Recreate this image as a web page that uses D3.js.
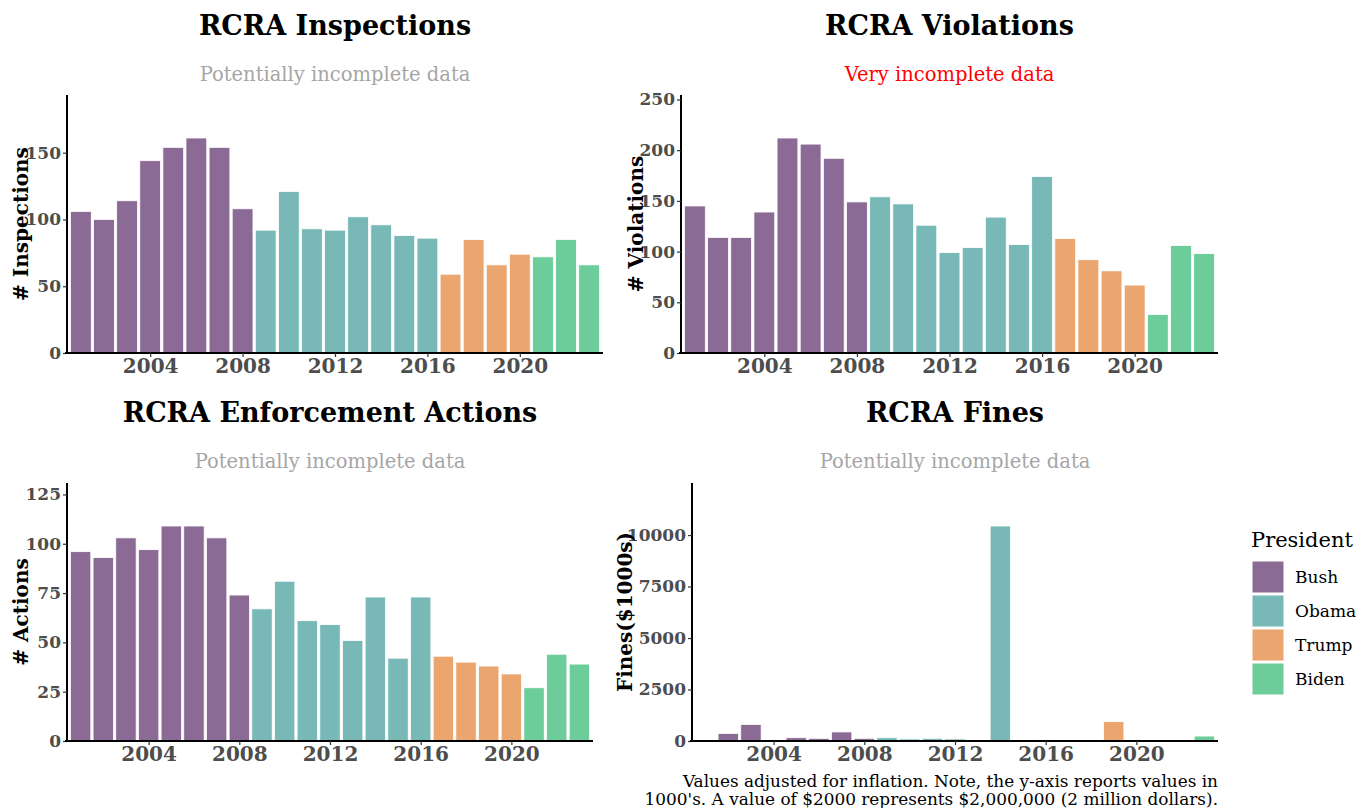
<!DOCTYPE html>
<html>
<head>
<meta charset="utf-8">
<script src="https://cdn.jsdelivr.net/npm/d3@7"></script>
<style>
  body { margin: 0; background: #fff; }
  svg { font-family: "DejaVu Serif", serif; }
</style>
</head>
<body>
<svg id="chart" width="1358" height="808"></svg>
<script>
// Data
const years = d3.range(2001, 2024);
const presidents = ["Bush", "Obama", "Trump", "Biden"];
const presidentByYear = ["Bush","Bush","Bush","Bush","Bush","Bush","Bush","Bush",
  "Obama","Obama","Obama","Obama","Obama","Obama","Obama","Obama",
  "Trump","Trump","Trump","Trump","Biden","Biden","Biden"];
const presColors = ["#8c6a96", "#78b9b8", "#eba66f", "#6dcd9a"];

const inspections = [106,100,114,144,154,161,154,108,92,121,93,92,102,96,88,86,59,85,66,74,72,85,66];
const violations = [145,114,114,139,212,206,192,149,154,147,126,99,104,134,107,174,113,92,81,67,38,106,98];
const actions = [96,93,103,97,109,109,103,74,67,81,61,59,51,73,42,73,43,40,38,34,27,44,39];
const fines = [0,370,800,50,160,130,440,130,160,100,130,100,0,10440,0,50,0,0,940,0,0,0,240];

const xTicks = [2004, 2008, 2012, 2016, 2020];

const color = d3.scaleOrdinal().domain(presidents).range(presColors);
const svg = d3.select("#chart");

function drawPanel(p) {
  const x = d3.scaleLinear().domain([2000.4, 2023.6]).range([p.left, p.right]);
  const y = d3.scaleLinear().domain([0, d3.max(p.values) * 1.2]).range([p.bottom, p.top]);
  const g = svg.append("g");

  // bars
  g.selectAll("rect")
    .data(years.map((yr, i) => ({ yr, v: p.values[i], pres: presidentByYear[i] })))
    .enter().append("rect")
    .attr("x", d => x(d.yr - 0.45))
    .attr("width", d => x(d.yr + 0.45) - x(d.yr - 0.45))
    .attr("y", d => y(d.v))
    .attr("height", d => y(0) - y(d.v))
    .attr("fill", d => color(d.pres))
    .attr("stroke", d => d.v > 0 ? "#ffffff" : "none")
    .attr("stroke-width", 0.8);

  // y axis
  const ya = g.append("g")
    .attr("transform", `translate(${p.left},0)`)
    .call(d3.axisLeft(y).tickValues(p.yTicks).tickSize(4).tickPadding(2).tickFormat(d3.format("d")));
  ya.select(".domain").attr("stroke", "#000").attr("stroke-width", 2).attr("d", `M0,${p.bottom}V${p.top}`);
  ya.selectAll(".tick line").attr("stroke", "#333").attr("stroke-width", 1.2);
  ya.selectAll(".tick text").attr("fill", "#4d4d4d").attr("font-weight", "bold")
    .attr("font-size", 17).attr("font-family", "DejaVu Serif");

  // x axis
  const xa = g.append("g")
    .attr("transform", `translate(0,${p.bottom})`)
    .call(d3.axisBottom(x).tickValues(xTicks).tickSize(4).tickPadding(2).tickFormat(d3.format("d")));
  xa.select(".domain").attr("stroke", "#000").attr("stroke-width", 2).attr("d", `M${p.left - 2},0H${p.right}`);
  xa.selectAll(".tick line").attr("stroke", "#333").attr("stroke-width", 1.2);
  xa.selectAll(".tick text").attr("fill", "#4d4d4d").attr("font-weight", "bold")
    .attr("font-size", 20).attr("font-family", "DejaVu Serif");

  // titles
  const cx = (p.left + p.right) / 2;
  g.append("text").attr("x", cx).attr("y", p.titleY).attr("text-anchor", "middle")
    .attr("font-size", 27).attr("font-weight", "bold").attr("fill", "#000").text(p.title);
  g.append("text").attr("x", cx).attr("y", p.titleY + 46).attr("text-anchor", "middle")
    .attr("font-size", 19.5).attr("fill", p.subColor).text(p.subtitle);

  // y label
  g.append("text")
    .attr("transform", `translate(${p.labelX},${(p.top + p.bottom) / 2}) rotate(-90)`)
    .attr("text-anchor", "middle").attr("font-size", 20).attr("font-weight", "bold")
    .attr("fill", "#000").text(p.ylabel);
}

drawPanel({ values: inspections, left: 67, right: 603, top: 95, bottom: 353,
  yTicks: [0, 50, 100, 150], title: "RCRA Inspections", subtitle: "Potentially incomplete data",
  subColor: "#a6a6a6", titleY: 35, ylabel: "# Inspections", labelX: 28 });

drawPanel({ values: violations, left: 681, right: 1218, top: 95, bottom: 353,
  yTicks: [0, 50, 100, 150, 200, 250], title: "RCRA Violations", subtitle: "Very incomplete data",
  subColor: "#ff0000", titleY: 35, ylabel: "# Violations", labelX: 643 });

drawPanel({ values: actions, left: 67, right: 593, top: 483, bottom: 741,
  yTicks: [0, 25, 50, 75, 100, 125], title: "RCRA Enforcement Actions", subtitle: "Potentially incomplete data",
  subColor: "#a6a6a6", titleY: 422, ylabel: "# Actions", labelX: 28 });

drawPanel({ values: fines, left: 692, right: 1218, top: 483, bottom: 741,
  yTicks: [0, 2500, 5000, 7500, 10000], title: "RCRA Fines", subtitle: "Potentially incomplete data",
  subColor: "#a6a6a6", titleY: 422, ylabel: "Fines($1000s)", labelX: 632 });

// footnote
const foot = svg.append("text").attr("text-anchor", "end").attr("font-size", 16.9).attr("fill", "#000");
foot.append("tspan").attr("x", 1218).attr("y", 787)
  .text("Values adjusted for inflation. Note, the y-axis reports values in");
foot.append("tspan").attr("x", 1218).attr("y", 805)
  .text("1000's. A value of $2000 represents $2,000,000 (2 million dollars).");

// legend
const leg = svg.append("g").attr("transform", "translate(1251,547)");
leg.append("text").attr("x", 0).attr("y", 0).attr("font-size", 21).attr("fill", "#000").text("President");
presidents.forEach((name, i) => {
  leg.append("rect").attr("x", 1).attr("y", 14 + i * 34).attr("width", 32).attr("height", 32)
    .attr("fill", color(name)).attr("stroke", "#fff").attr("stroke-width", 1);
  leg.append("text").attr("x", 44).attr("y", 36 + i * 34).attr("font-size", 17).attr("fill", "#000").text(name);
});
</script>
</body>
</html>
